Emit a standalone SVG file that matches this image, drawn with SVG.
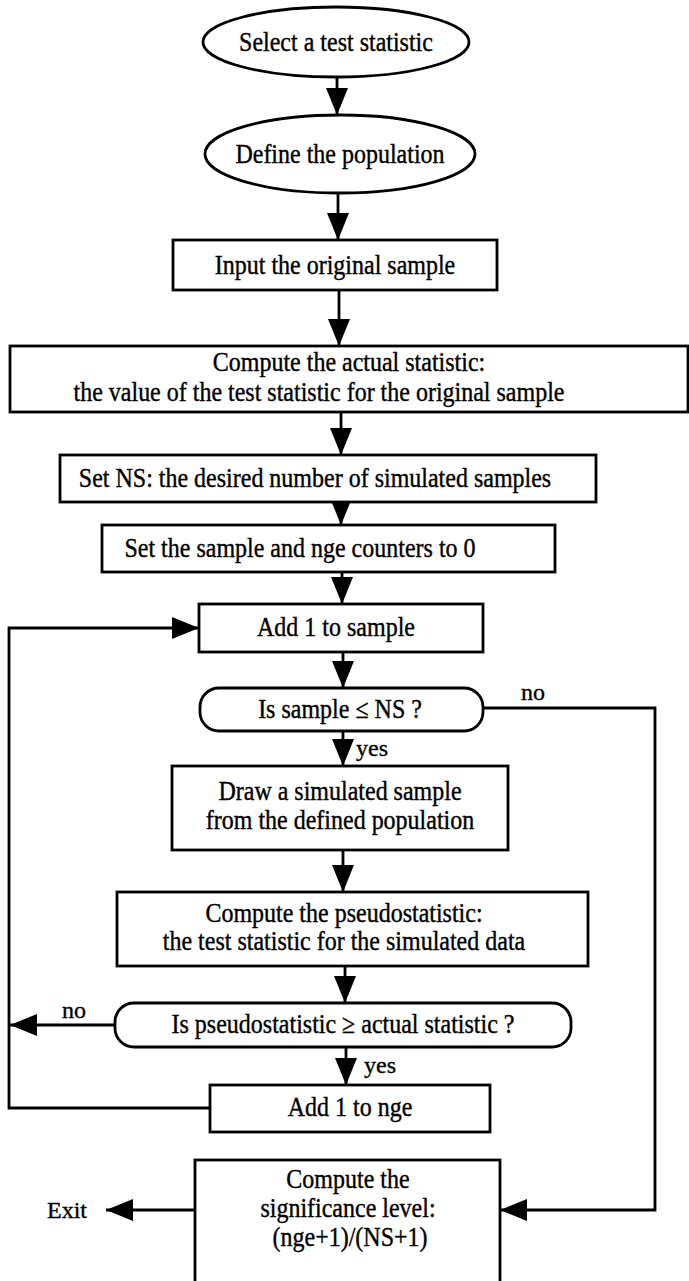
<svg xmlns="http://www.w3.org/2000/svg" width="689" height="1281" viewBox="0 0 689 1281">
<style>
.s{fill:#fff;stroke:#000;stroke-width:2.8}
.t{font-family:"Liberation Serif","Times New Roman",serif;font-size:24px;fill:#000;stroke:#000;stroke-width:0.35;text-anchor:middle}
.l{font-family:"Liberation Serif","Times New Roman",serif;font-size:24px;fill:#000;stroke:#000;stroke-width:0.35}
.c{fill:none;stroke:#000;stroke-width:2.8}
</style>
<defs>
<marker id="ah" markerUnits="userSpaceOnUse" markerWidth="27" markerHeight="22" refX="27" refY="11" orient="auto">
<path d="M0,0 L27,11 L0,22 z" fill="#000"/>
</marker>
</defs>
<rect width="689" height="1281" fill="#fff"/>
<g id="connectors">
<line class="c" x1="337" y1="77" x2="337" y2="115" marker-end="url(#ah)"/>
<line class="c" x1="338" y1="193" x2="338" y2="240" marker-end="url(#ah)"/>
<line class="c" x1="339" y1="290" x2="339" y2="346" marker-end="url(#ah)"/>
<line class="c" x1="341" y1="412" x2="341" y2="455" marker-end="url(#ah)"/>
<line class="c" x1="341" y1="502" x2="341" y2="525" marker-end="url(#ah)"/>
<line class="c" x1="342" y1="572" x2="342" y2="604" marker-end="url(#ah)"/>
<line class="c" x1="343" y1="652" x2="343" y2="688" marker-end="url(#ah)"/>
<line class="c" x1="343" y1="731" x2="343" y2="766" marker-end="url(#ah)"/>
<line class="c" x1="343" y1="850" x2="343" y2="892" marker-end="url(#ah)"/>
<line class="c" x1="345" y1="966" x2="345" y2="1003" marker-end="url(#ah)"/>
<line class="c" x1="346" y1="1047" x2="346" y2="1085" marker-end="url(#ah)"/>
<polyline class="c" points="210,1108 9,1108 9,628 199,628" marker-end="url(#ah)"/>
<line class="c" x1="115" y1="1025" x2="10" y2="1025" marker-end="url(#ah)"/>
<polyline class="c" points="483,708 655,708 655,1210 500,1210" marker-end="url(#ah)"/>
<line class="c" x1="195" y1="1210" x2="106" y2="1210" marker-end="url(#ah)"/>
<text class="l" x="521" y="700">no</text>
<text class="l" x="356" y="756">yes</text>
<text class="l" x="62" y="1018">no</text>
<text class="l" x="364" y="1073">yes</text>
<text class="l" x="47" y="1218">Exit</text>
</g>
<g id="n1"><ellipse class="s" cx="336" cy="42" rx="133" ry="35"/><text class="t" transform="translate(336,51) scale(1,1.12)">Select a test statistic</text></g>
<g id="n2"><ellipse class="s" cx="340" cy="154" rx="135" ry="39"/><text class="t" transform="translate(340,163) scale(1,1.12)">Define the population</text></g>
<g id="n3"><rect class="s" x="173" y="240" width="324" height="50"/><text class="t" transform="translate(335,274) scale(1,1.12)">Input the original sample</text></g>
<g id="n4"><rect class="s" x="10" y="346" width="678" height="66"/><text class="t" transform="translate(349,371) scale(1,1.12)">Compute the actual statistic:</text><text class="t" transform="translate(319,401) scale(1,1.12)">the value of the test statistic for the original sample</text></g>
<g id="n5"><rect class="s" x="60" y="455" width="536" height="47"/><text class="t" transform="translate(315,487) scale(1,1.12)">Set NS: the desired number of simulated samples</text></g>
<g id="n6"><rect class="s" x="102" y="525" width="453" height="47"/><text class="t" transform="translate(300,557) scale(1,1.12)">Set the sample and nge counters to 0</text></g>
<g id="n7"><rect class="s" x="199" y="604" width="284" height="48"/><text class="t" transform="translate(336,636) scale(1,1.12)">Add 1 to sample</text></g>
<g id="n8"><rect class="s" x="200" y="688" width="283" height="43" rx="19"/><text class="t" transform="translate(340,718) scale(1,1.12)">Is sample ≤ NS ?</text></g>
<g id="n9"><rect class="s" x="172" y="766" width="336" height="84"/><text class="t" transform="translate(340,800) scale(1,1.12)">Draw a simulated sample</text><text class="t" transform="translate(340,829) scale(1,1.12)">from the defined population</text></g>
<g id="n10"><rect class="s" x="117" y="892" width="471" height="74"/><text class="t" transform="translate(344,922) scale(1,1.12)">Compute the pseudostatistic:</text><text class="t" transform="translate(344,950) scale(1,1.12)">the test statistic for the simulated data</text></g>
<g id="n11"><rect class="s" x="115" y="1003" width="456" height="44" rx="19"/><text class="t" transform="translate(343,1033) scale(1,1.12)">Is pseudostatistic ≥ actual statistic ?</text></g>
<g id="n12"><rect class="s" x="210" y="1085" width="280" height="47"/><text class="t" transform="translate(350,1116) scale(1,1.12)">Add 1 to nge</text></g>
<g id="n13"><rect class="s" x="195" y="1160" width="305" height="135"/><text class="t" transform="translate(348,1188) scale(1,1.12)">Compute the</text><text class="t" transform="translate(348,1217) scale(1,1.12)">significance level:</text><text class="t" transform="translate(350,1246) scale(1,1.12)">(nge+1)/(NS+1)</text></g>
</svg>
